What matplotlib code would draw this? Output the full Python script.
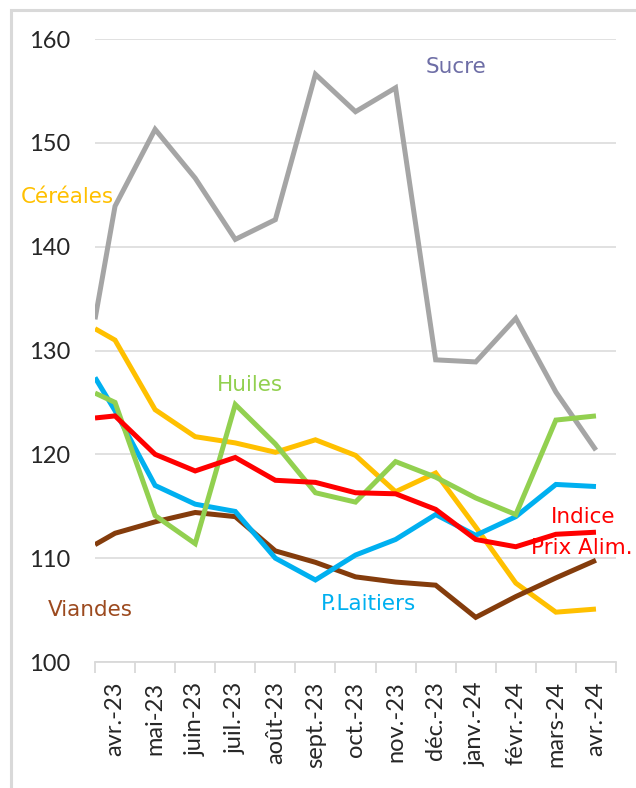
import numpy as np
import matplotlib
matplotlib.use("Agg")
import matplotlib.pyplot as plt
from matplotlib.patches import Rectangle

# ---- data ----
months = ["avr.-23", "mai-23", "juin-23", "juil.-23", "août-23", "sept.-23", "oct.-23",
          "nov.-23", "déc.-23", "janv.-24", "févr.-24", "mars-24", "avr.-24"]
# first value = start of period (left edge of the axis), then one value per month
sucre      = [133.0, 143.9, 151.3, 146.6, 140.7, 142.6, 156.6, 153.0, 155.3, 129.1, 128.9, 133.1, 126.0, 120.4]
cereales   = [132.1, 131.0, 124.3, 121.7, 121.1, 120.2, 121.4, 119.9, 116.4, 118.2, 113.0, 107.6, 104.8, 105.1]
huiles     = [125.9, 125.0, 114.1, 111.4, 124.8, 121.0, 116.3, 115.4, 119.3, 117.8, 115.8, 114.2, 123.3, 123.7]
indice     = [123.5, 123.7, 120.0, 118.4, 119.7, 117.5, 117.3, 116.3, 116.2, 114.7, 111.8, 111.1, 112.3, 112.5]
laitiers   = [127.4, 124.2, 117.0, 115.2, 114.5, 110.0, 107.9, 110.3, 111.8, 114.2, 112.2, 114.0, 117.1, 116.9]
viandes    = [111.3, 112.4, 113.5, 114.4, 114.0, 110.7, 109.6, 108.2, 107.7, 107.4, 104.3, 106.3, 108.1, 109.8]

yticks = [100, 110, 120, 130, 140, 150, 160]

# x positions: category centres 0..12, plus the left edge of the axis for the first value
cat = np.arange(len(months))
xpos = np.r_[cat[0] - 0.5, cat]

# ---- style ----
plt.rcParams["font.family"] = ["Lato", "DejaVu Sans"]
LABEL_FONT = ["DejaVu Sans"]

fig = plt.figure(figsize=(6.36, 7.88), dpi=100)
fig.patches.append(Rectangle((11 / 636, -0.1), 1.2, 1 - 10 / 788 + 0.1, transform=fig.transFigure,
                             fill=False, edgecolor="#D9D9D9", linewidth=2.2, zorder=0))

ax = fig.add_axes([95 / 636, 126 / 788, 521 / 636, 623 / 788])

series = [
    (sucre, "#A5A5A5"),
    (cereales, "#FFC000"),
    (viandes, "#843C0C"),
    (laitiers, "#00B0F0"),
    (huiles, "#92D050"),
    (indice, "#FF0000"),
]
for vals, col in series:
    ax.plot(xpos, vals, color=col, lw=3.6, solid_joinstyle="miter", solid_capstyle="butt", zorder=3)

ax.set_xlim(-0.5, len(months) - 0.5)
ax.set_ylim(100, 160)
ax.set_yticks(yticks)
ax.set_yticklabels([str(v) for v in yticks])
ax.set_xticks(cat)
ax.set_xticklabels(months, rotation=90)
ax.set_xticks(np.arange(-0.5, len(months), 1.0), minor=True)

ax.grid(axis="y", color="#D9D9D9", lw=1.1, zorder=0)
for s in ["top", "right", "left"]:
    ax.spines[s].set_visible(False)
ax.spines["bottom"].set_color("#D9D9D9")
ax.spines["bottom"].set_linewidth(1.3)

ax.tick_params(axis="y", length=0, pad=18, labelsize=17, labelcolor="#262626")
ax.tick_params(axis="x", which="major", length=0, pad=14, labelsize=17, labelcolor="#262626")
ax.tick_params(axis="x", which="minor", length=8, width=1.3, color="#D9D9D9")

# ---- series labels ----
lab_kw = dict(fontsize=15.5, ha="center", va="center", clip_on=False, zorder=5, family=LABEL_FONT)
ax.text(8.5, 157.3, "Sucre", color="#6E6EA6", **lab_kw)
ax.text(-1.18, 144.8, "Céréales", color="#FFC000", **lab_kw)
ax.text(3.375, 126.7, "Huiles", color="#92D050", **lab_kw)
ax.text(-0.625, 105.0, "Viandes", color="#9C4A1F", **lab_kw)
ax.text(6.325, 105.6, "P.Laitiers", color="#00B0F0", **lab_kw)
ax.text(11.675, 114.0, "Indice", color="#FF0000", **lab_kw)
ax.text(11.65, 111.0, "Prix Alim.", color="#FF0000", **lab_kw)

fig.savefig("out.png", dpi=100)
